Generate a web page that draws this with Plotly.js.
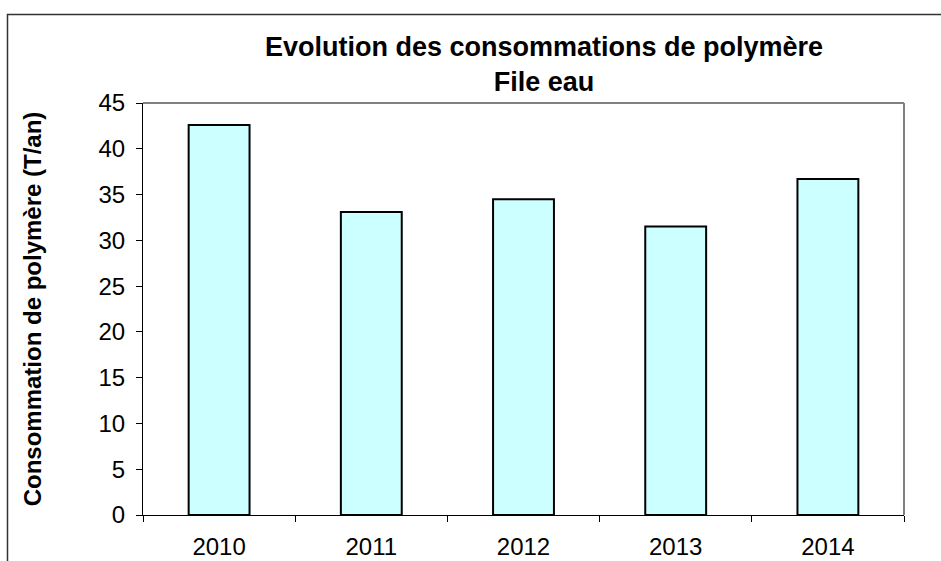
<!DOCTYPE html>
<html>
<head>
<meta charset="utf-8">
<script src="https://cdn.plot.ly/plotly-3.0.1.min.js"></script>
<style>
  html, body { margin: 0; padding: 0; background: #fff; }
  #chart { width: 941px; height: 561px; }
</style>
</head>
<body>
<div id="chart"></div>
<script>
// Annual polymer consumption, water line (tonnes per year)
const years = ['2010', '2011', '2012', '2013', '2014'];
const consumption = [42.6, 33.1, 34.5, 31.5, 36.7];
const yTicks = [0, 5, 10, 15, 20, 25, 30, 35, 40, 45];

const L = 143, R = 37, T = 103, B = 46;
const W = 941 - L - R, H = 561 - T - B;
const px = x => (x - L) / W;          // page x -> paper x
const py = y => (561 - B - y) / H;    // page y -> paper y

const trace = {
  type: 'bar',
  x: years,
  y: consumption,
  marker: { color: '#CCFFFF', line: { color: '#000000', width: 2 } },
  hoverinfo: 'x+y'
};

const layout = {
  width: 941,
  height: 561,
  margin: { l: L, r: R, t: T, b: B },
  paper_bgcolor: '#ffffff',
  plot_bgcolor: '#ffffff',
  font: { family: 'Arial, "Liberation Sans", sans-serif', color: '#000000' },
  bargap: 0.6,
  showlegend: false,
  title: {
    text: '<b>Evolution des consommations de polymère</b><br><b>File eau</b>',
    font: { size: 27, color: '#000000' },
    x: px(544), xref: 'paper', xanchor: 'center',
    y: 1 - 56 / 561, yref: 'container', yanchor: 'top'
  },
  xaxis: {
    type: 'category',
    showgrid: false,
    zeroline: false,
    showline: true,
    linecolor: '#000000',
    linewidth: 1,
    ticks: 'outside',
    tickson: 'boundaries',
    ticklen: 6,
    tickcolor: '#000000',
    tickfont: { size: 24 },
    ticklabelstandoff: 10,
    fixedrange: true
  },
  yaxis: {
    range: [0, 45],
    tickvals: yTicks,
    showgrid: false,
    zeroline: false,
    showline: true,
    linecolor: '#000000',
    linewidth: 1,
    ticks: 'outside',
    ticklen: 6,
    tickcolor: '#000000',
    tickfont: { size: 24 },
    ticklabelstandoff: 6,
    title: {
      text: '<b>Consommation de polymère (T/an)</b>',
      font: { size: 24 },
      standoff: 50
    },
    fixedrange: true
  },
  shapes: [
    // plot area top and right edges
    { type: 'line', xref: 'paper', yref: 'paper', x0: 0, x1: 1, y0: 1, y1: 1,
      line: { color: '#808080', width: 2 } },
    { type: 'line', xref: 'paper', yref: 'paper', x0: 1, x1: 1, y0: 0, y1: 1,
      line: { color: '#808080', width: 2 } },
    // outer chart frame
    { type: 'rect', xref: 'paper', yref: 'paper',
      x0: px(7.5), x1: px(960), y0: py(14.5), y1: py(600),
      line: { color: '#333333', width: 1.5 } }
  ]
};

Plotly.newPlot('chart', [trace], layout, { displayModeBar: false, staticPlot: true });
</script>
</body>
</html>
